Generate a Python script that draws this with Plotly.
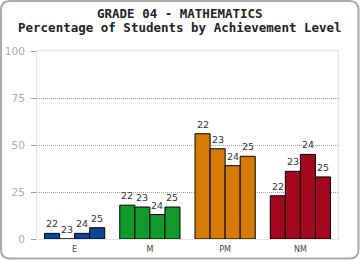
import plotly.graph_objects as go

categories = ["E", "M", "PM", "NM"]
years = ["22", "23", "24", "25"]
values = {
    "22": [3, 18, 56, 23],
    "23": [0, 17, 48, 36],
    "24": [3, 13, 39, 45],
    "25": [6, 17, 44, 33],
}
cat_colors = ["#0c4593", "#11992a", "#d67b07", "#a3081f"]
y_ticks = [0, 25, 50, 75, 100]
title_lines = ["GRADE 04 - MATHEMATICS", "Percentage of Students by Achievement Level"]

W, H = 360, 260
ml, mr, mt, mb = 37, 22, 51, 21

fig = go.Figure()
for yr in years:
    fig.add_trace(go.Bar(
        x=categories, y=values[yr], name=yr,
        marker=dict(color=cat_colors, line=dict(color="#000", width=1)),
        hoverinfo="skip",
    ))

# value labels above bars
n = len(years)
bw = 0.8 / n
for j, yr in enumerate(years):
    for i, v in enumerate(values[yr]):
        fig.add_annotation(
            x=i + (j - (n - 1) / 2) * bw, y=v, xref="x", yref="y",
            text=yr, showarrow=False, yanchor="bottom", yshift=2,
            font=dict(family="DejaVu Sans", size=9.5, color="#333"),
        )

pw = W - ml - mr
ph = H - mt - mb
def px2x(p): return (p - ml) / pw
def py2y(p): return (H - mb - p) / ph

# title lines
for k, t in enumerate(title_lines):
    fig.add_annotation(
        x=px2x(180), xref="paper", y=py2y(13 + 14 * k), yref="paper",
        text=f"<b>{t}</b>", showarrow=False, xanchor="center", yanchor="middle",
        font=dict(family="DejaVu Sans Mono", size=12.5, color="#222"),
    )

# outer rounded border
x0, y0, x1, y1, r = 1, 1, 358.5, 258.5, 9
path = (f"M {px2x(x0+r)} {py2y(y0)} L {px2x(x1-r)} {py2y(y0)} "
        f"Q {px2x(x1)} {py2y(y0)} {px2x(x1)} {py2y(y0+r)} "
        f"L {px2x(x1)} {py2y(y1-r)} Q {px2x(x1)} {py2y(y1)} {px2x(x1-r)} {py2y(y1)} "
        f"L {px2x(x0+r)} {py2y(y1)} Q {px2x(x0)} {py2y(y1)} {px2x(x0)} {py2y(y1-r)} "
        f"L {px2x(x0)} {py2y(y0+r)} Q {px2x(x0)} {py2y(y0)} {px2x(x0+r)} {py2y(y0)} Z")
fig.add_shape(type="path", path=path, xref="paper", yref="paper",
              line=dict(color="#aaaaaa", width=2), layer="below")

fig.update_layout(
    width=W, height=H,
    margin=dict(l=ml, r=mr, t=mt, b=mb, autoexpand=False),
    paper_bgcolor="white", plot_bgcolor="white",
    barmode="group", bargap=0.2, bargroupgap=0,
    showlegend=False,
    xaxis=dict(
        showgrid=False, showline=True, linecolor="#e6e6e6", mirror=True,
        ticks="", tickfont=dict(family="DejaVu Sans", size=8, color="#444"),
        ticklabelstandoff=2, automargin=False, fixedrange=True,
    ),
    yaxis=dict(
        range=[0, 100], tickvals=y_ticks, showgrid=True, gridcolor="#a0a0a0",
        griddash="1px,1px", gridwidth=1, zeroline=False,
        showline=True, linecolor="#e6e6e6", mirror=True,
        ticks="outside", ticklen=5, tickcolor="#999", ticklabelstandoff=4,
        tickfont=dict(family="DejaVu Sans", size=10.5, color="#aaaaaa"),
        automargin=False, fixedrange=True,
    ),
)

fig.write_html("out.html", config={"displayModeBar": False})
